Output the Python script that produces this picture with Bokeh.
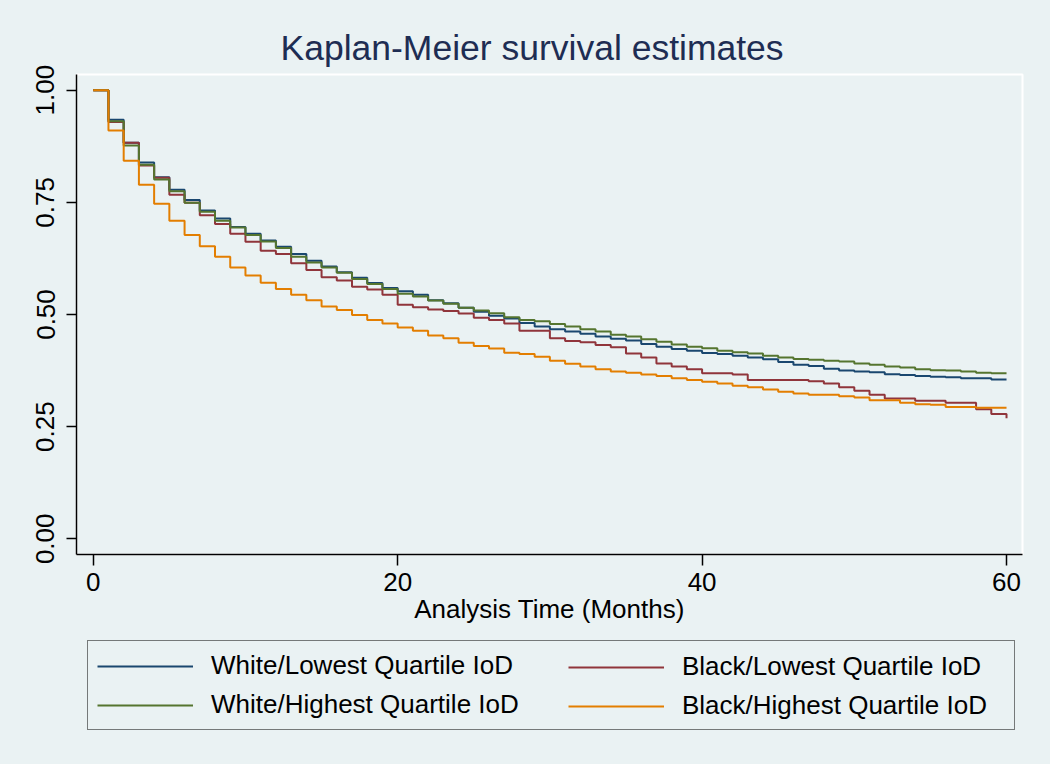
from bokeh.plotting import figure
from bokeh.layouts import column
from bokeh.models import (Legend, LegendItem, FixedTicker, NumeralTickFormatter,
                          Range1d, GlobalInlineStyleSheet)
from bokeh.embed import file_html
from bokeh.resources import INLINE

months = list(range(61))

white_lowest = [1.000, 0.934, 0.883, 0.839, 0.806, 0.778, 0.755, 0.732, 0.714, 0.695,
                0.680, 0.665, 0.651, 0.635, 0.620, 0.607, 0.594, 0.582, 0.570, 0.559,
                0.552, 0.544, 0.532, 0.525, 0.515, 0.506, 0.497, 0.491, 0.481, 0.473,
                0.467, 0.462, 0.457, 0.451, 0.446, 0.442, 0.434, 0.428, 0.423, 0.419,
                0.414, 0.412, 0.408, 0.404, 0.400, 0.394, 0.388, 0.385, 0.379, 0.375,
                0.373, 0.371, 0.367, 0.365, 0.363, 0.361, 0.360, 0.358, 0.358, 0.355,
                0.355]
black_lowest = [1.000, 0.929, 0.883, 0.832, 0.805, 0.767, 0.749, 0.721, 0.702, 0.680,
                0.662, 0.642, 0.635, 0.614, 0.599, 0.583, 0.576, 0.562, 0.556, 0.544,
                0.522, 0.516, 0.511, 0.508, 0.502, 0.493, 0.488, 0.480, 0.464, 0.464,
                0.447, 0.441, 0.438, 0.432, 0.427, 0.413, 0.404, 0.391, 0.384, 0.378,
                0.369, 0.369, 0.366, 0.354, 0.354, 0.354, 0.354, 0.351, 0.346, 0.338,
                0.330, 0.321, 0.313, 0.313, 0.308, 0.308, 0.303, 0.303, 0.289, 0.278,
                0.269]
white_highest = [1.000, 0.931, 0.877, 0.834, 0.801, 0.775, 0.749, 0.729, 0.709, 0.694,
                 0.677, 0.663, 0.648, 0.629, 0.616, 0.605, 0.593, 0.579, 0.568, 0.557,
                 0.546, 0.540, 0.531, 0.524, 0.515, 0.509, 0.503, 0.494, 0.488, 0.485,
                 0.479, 0.473, 0.467, 0.462, 0.455, 0.451, 0.445, 0.439, 0.433, 0.428,
                 0.425, 0.419, 0.416, 0.413, 0.408, 0.404, 0.401, 0.399, 0.397, 0.395,
                 0.391, 0.388, 0.384, 0.382, 0.378, 0.376, 0.375, 0.373, 0.370, 0.369,
                 0.369]
black_highest = [1.000, 0.910, 0.843, 0.789, 0.747, 0.709, 0.677, 0.652, 0.629, 0.605,
                 0.587, 0.571, 0.557, 0.544, 0.532, 0.518, 0.510, 0.499, 0.488, 0.480,
                 0.471, 0.464, 0.453, 0.447, 0.437, 0.430, 0.424, 0.415, 0.412, 0.406,
                 0.397, 0.390, 0.384, 0.378, 0.373, 0.370, 0.366, 0.363, 0.358, 0.354,
                 0.350, 0.346, 0.341, 0.338, 0.333, 0.328, 0.324, 0.321, 0.321, 0.318,
                 0.315, 0.309, 0.309, 0.303, 0.300, 0.299, 0.294, 0.294, 0.292, 0.292,
                 0.292]

series_names = ["White/Lowest Quartile IoD", "Black/Lowest Quartile IoD",
                "White/Highest Quartile IoD", "Black/Highest Quartile IoD"]
series_values = [white_lowest, black_lowest, white_highest, black_highest]
series_colors = ["#1a476f", "#90353b", "#55752f", "#e37e00"]

x_ticks = [0, 20, 40, 60]
y_ticks = [0.0, 0.25, 0.5, 0.75, 1.0]

BG = "#eaf2f3"
FONT = "Liberation Sans"

# ---------------- main plot ----------------
p = figure(width=1050, height=630, output_backend="svg", toolbar_location=None,
           x_range=Range1d(-1.1, 61.05), y_range=Range1d(-0.035, 1.035),
           min_border_left=76, min_border_right=28, min_border_top=74,
           min_border_bottom=76)
p.stylesheets = [GlobalInlineStyleSheet(css="html, body { background-color: %s; }" % BG)]

p.background_fill_color = BG
p.border_fill_color = BG
p.outline_line_color = "white"
p.outline_line_width = 2
p.grid.visible = False

p.title.text = "Kaplan-Meier survival estimates"
p.title.align = "left"
p.title.offset = 204
p.title.text_font = FONT
p.title.text_font_size = "35.5px"
p.title.text_font_style = "normal"
p.title.text_color = "#1e2d53"
p.title.standoff = 14

for vals, col in zip(series_values, series_colors):
    p.step(months, vals, mode="after", line_color=col, line_width=2)

for ax in (p.xaxis[0], p.yaxis[0]):
    ax.axis_line_color = "black"
    ax.axis_line_width = 1.5
    ax.major_tick_line_color = "black"
    ax.major_tick_line_width = 1.5
    ax.major_tick_in = 0
    ax.minor_tick_line_color = None
    ax.major_label_text_font = FONT
    ax.major_label_text_font_size = "26px"
    ax.major_label_text_color = "black"

p.xaxis.ticker = FixedTicker(ticks=x_ticks)
p.xaxis.major_tick_out = 11
p.xaxis.major_label_standoff = 7
p.xaxis.axis_label = "Analysis Time (Months)"
p.xaxis.axis_label_text_font = FONT
p.xaxis.axis_label_text_font_size = "26px"
p.xaxis.axis_label_text_font_style = "normal"
p.xaxis.axis_label_text_color = "black"
p.xaxis.axis_label_standoff = 0

p.yaxis.ticker = FixedTicker(ticks=y_ticks)
p.yaxis.formatter = NumeralTickFormatter(format="0.00")
p.yaxis.major_tick_out = 10
p.yaxis.major_label_standoff = 12
p.yaxis.major_label_orientation = "vertical"

# ---------------- legend (second figure, same borders) ----------------
pl = figure(width=1050, height=134, output_backend="svg", toolbar_location=None,
            x_range=Range1d(-1.1, 61.05), y_range=Range1d(5, 6),
            x_axis_location=None, y_axis_location=None,
            min_border_left=76, min_border_right=28, min_border_top=4,
            min_border_bottom=30)
pl.background_fill_color = BG
pl.border_fill_color = BG
pl.outline_line_color = None
pl.grid.visible = False

# same series drawn outside the visible range: they only provide the legend keys
key_renderers = [pl.step(months, vals, mode="after", line_color=col, line_width=2)
                 for vals, col in zip(series_values, series_colors)]

def make_legend(idx, loc, **kw):
    its = [LegendItem(label=series_names[i], renderers=[key_renderers[i]]) for i in idx]
    return Legend(items=its, orientation="vertical", location=loc,
                  label_text_font=FONT, label_text_font_size="26px",
                  label_text_color="black",
                  glyph_width=96, glyph_height=26, label_standoff=18,
                  spacing=8, margin=0, **kw)

# left column, its frame spans the whole legend box
pl.add_layout(make_legend([0, 2], (11, 4), padding=9, label_width=794,
                          border_line_color="black", border_line_width=1.2,
                          background_fill_color=BG, background_fill_alpha=1.0),
              "center")
# right column
pl.add_layout(make_legend([1, 3], (492, 13), padding=0, label_width=20,
                          border_line_color=None, background_fill_alpha=0.0),
              "center")

layout = column(p, pl, spacing=0)

open("out.html", "w").write(file_html(layout, INLINE))
